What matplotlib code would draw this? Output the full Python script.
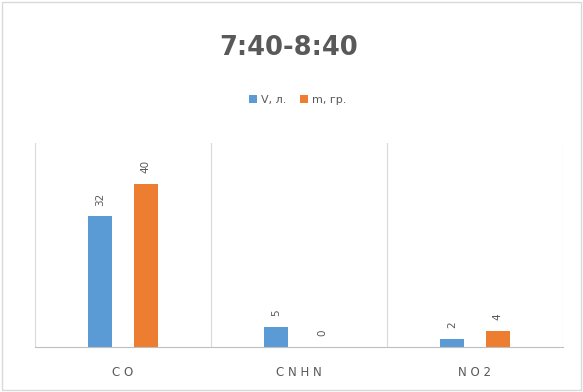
import numpy as np
import matplotlib.pyplot as plt

categories = ["C O", "C N H N", "N O 2"]
volume = [32, 5, 2]
mass = [40, 0, 4]
series_names = ["V, л.", "m, гр."]

blue = "#5B9BD5"
orange = "#ED7D31"
text_gray = "#595959"

fig = plt.figure(figsize=(5.83, 3.92), dpi=100)
ax = fig.add_axes([35 / 583, 45 / 392, 528 / 583, 204 / 392])

x = np.arange(len(categories))
w = 0.136
off = 0.13
b1 = ax.bar(x - off, volume, w, color=blue, label=series_names[0])
b2 = ax.bar(x + off, mass, w, color=orange, label=series_names[1])

for bars, vals in ((b1, volume), (b2, mass)):
    for rect, v in zip(bars, vals):
        ax.text(rect.get_x() + rect.get_width() / 2, v + 2.6, str(v),
                rotation=90, ha="center", va="bottom", fontsize=7.5, color=text_gray)

ax.set_xlim(-0.5, 2.5)
ax.set_ylim(0, 50)
ax.set_yticks([])
ax.set_xticks(x)
ax.set_xticklabels(categories, fontsize=8.5, color=text_gray)
ax.tick_params(axis="x", length=0, pad=14)

# category separators
for xs in [-0.5, 0.5, 1.5, 2.5]:
    ax.axvline(xs, color="#D9D9D9", lw=0.8, zorder=0)

for side in ["top", "left", "right"]:
    ax.spines[side].set_visible(False)
ax.spines["bottom"].set_color("#BFBFBF")

fig.text(289 / 583, 1 - 48 / 392, "7:40-8:40", ha="center", va="center",
         fontsize=18.5, fontweight="bold", color=text_gray)
fig.legend(loc="center", bbox_to_anchor=(298 / 583, 1 - 100 / 392), ncol=2,
           frameon=False, fontsize=8, handlelength=0.7, handleheight=0.7,
           columnspacing=1.2, handletextpad=0.4, labelcolor=text_gray)

border = plt.Rectangle((0.004, 0.005), 0.992, 0.99, transform=fig.transFigure,
                       fill=False, edgecolor="#D9D9D9", lw=1)
fig.patches.append(border)

fig.savefig("out.png", dpi=100)
